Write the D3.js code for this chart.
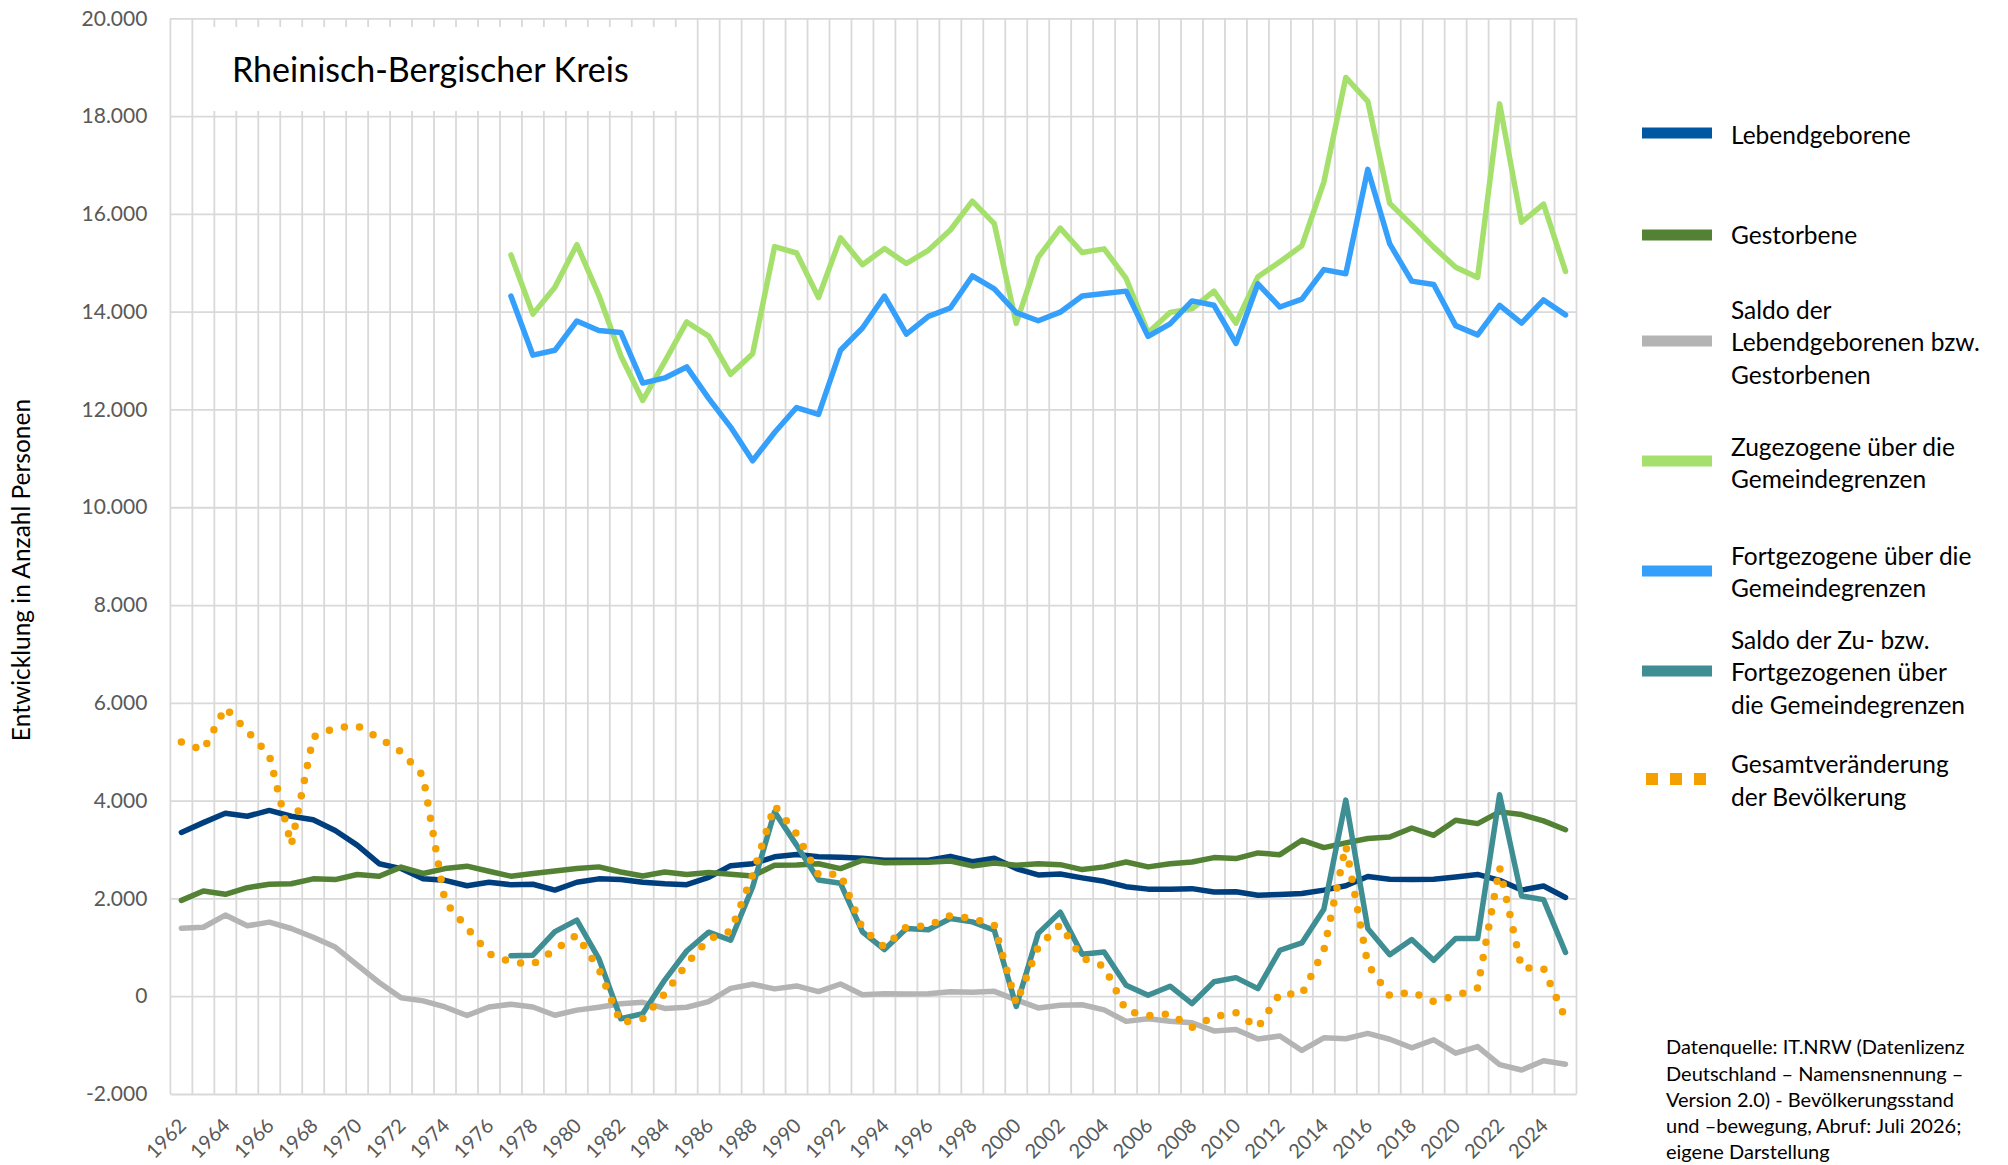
<!DOCTYPE html>
<html><head><meta charset="utf-8">
<script src="https://cdn.jsdelivr.net/npm/d3@7"></script>
<style>
html,body{margin:0;padding:0;background:#fff;}
svg{display:block;font-family:Lato,"Open Sans",sans-serif;}
</style></head><body>
<svg id="chart" width="2008" height="1165"></svg>
<script>
// ---------- DATA ----------
const years = [1962,1963,1964,1965,1966,1967,1968,1969,1970,1971,1972,1973,1974,1975,1976,1977,1978,1979,
  1980,1981,1982,1983,1984,1985,1986,1987,1988,1989,1990,1991,1992,1993,1994,1995,1996,1997,1998,1999,
  2000,2001,2002,2003,2004,2005,2006,2007,2008,2009,2010,2011,2012,2013,2014,2015,2016,2017,2018,2019,
  2020,2021,2022,2023,2024,2025];

const xTickLabels = [1962,1964,1966,1968,1970,1972,1974,1976,1978,1980,1982,1984,1986,1988,1990,1992,
  1994,1996,1998,2000,2002,2004,2006,2008,2010,2012,2014,2016,2018,2020,2022,2024];
const yTicks = [-2000,0,2000,4000,6000,8000,10000,12000,14000,16000,18000,20000];

const lebendgeborene = [3350,3550,3740,3680,3800,3680,3610,3390,3090,2710,2610,2400,2370,2260,2330,2280,2290,2170,
  2330,2400,2385,2330,2300,2280,2430,2670,2710,2850,2900,2850,2840,2820,2780,2780,2780,2860,2750,2820,
  2610,2480,2500,2420,2350,2240,2190,2190,2200,2130,2135,2065,2080,2100,2170,2260,2450,2390,2385,2390,
  2440,2490,2370,2170,2255,2020];

const gestorbene = [1960,2150,2085,2220,2290,2300,2400,2385,2490,2455,2640,2510,2610,2660,2555,2455,2510,2560,
  2610,2645,2540,2460,2540,2490,2530,2495,2460,2680,2685,2710,2610,2780,2730,2735,2740,2765,2665,2725,
  2680,2710,2690,2590,2645,2745,2645,2710,2745,2835,2815,2930,2895,3190,3040,3135,3225,3255,3440,3290,
  3600,3530,3770,3715,3585,3405];

const saldoNatuerlich = [1390,1410,1660,1440,1515,1385,1205,1005,640,280,-30,-95,-220,-395,-220,-165,-220,-390,
  -285,-225,-155,-125,-250,-225,-110,160,245,150,210,95,250,30,50,45,50,90,80,100,
  -75,-240,-185,-175,-280,-515,-460,-510,-545,-710,-680,-875,-815,-1110,-850,-870,-760,-880,-1055,-890,
  -1165,-1030,-1400,-1510,-1320,-1390];

const zugezogene = [null,null,null,null,null,null,null,null,null,null,null,null,null,null,null,15160,13950,14500,
  15370,14340,13100,12185,12980,13790,13500,12720,13140,15330,15200,14290,15510,14960,15290,14985,15255,15670,16260,15800,
  13760,15110,15710,15210,15285,14680,13570,13985,14060,14420,13765,14715,15020,15350,16650,18790,18300,16215,15775,15320,
  14910,14700,18250,15830,16200,14825];

const fortgezogene = [null,null,null,null,null,null,null,null,null,null,null,null,null,null,null,14320,13110,13210,
  13810,13615,13575,12540,12645,12870,12226,11640,10950,11530,12040,11900,13210,13665,14320,13540,13905,14075,14730,14465,
  13980,13815,13990,14320,14370,14420,13495,13750,14220,14130,13350,14570,14095,14255,14860,14775,16910,15385,14625,14555,
  13715,13525,14130,13765,14240,13935];

const saldoWanderung = [null,null,null,null,null,null,null,null,null,null,null,null,null,null,null,830,840,1320,
  1555,770,-460,-355,330,925,1310,1145,2235,3770,3090,2375,2310,1315,955,1385,1360,1590,1520,1350,
  -210,1285,1720,860,905,225,20,205,-150,295,380,155,940,1090,1780,4010,1385,850,1160,735,
  1180,1180,4120,2050,1975,895];

const gesamtveraenderung = [5200,5030,5900,5420,4930,3090,5300,5490,5530,5280,5000,4510,1930,1400,870,700,655,950,
  1250,560,-540,-460,50,660,1170,1330,2480,3900,3320,2480,2500,1380,1005,1420,1440,1650,1590,1450,
  -150,1010,1460,780,610,-295,-400,-360,-640,-420,-340,-640,50,40,935,3080,650,10,90,-110,
  10,170,2630,580,570,-460];

const seriesNames = ["Lebendgeborene","Gestorbene","Saldo der|Lebendgeborenen bzw.|Gestorbenen",
  "Zugezogene über die|Gemeindegrenzen","Fortgezogene über die|Gemeindegrenzen",
  "Saldo der Zu- bzw.|Fortgezogenen über|die Gemeindegrenzen","Gesamtveränderung|der Bevölkerung"];

const titleText = "Rheinisch-Bergischer Kreis";
const yAxisTitle = "Entwicklung in Anzahl Personen";
const sourceLines = ["Datenquelle: IT.NRW (Datenlizenz","Deutschland – Namensnennung –",
  "Version 2.0) - Bevölkerungsstand","und –bewegung, Abruf: Juli 2026;","eigene Darstellung"];

// ---------- STYLE / LAYOUT ----------
const colors = ["#003f7e","#548235","#b4b4b4","#a6e06c","#35a0fb","#3e8e93","#f3a000"];
const legendColors = ["#0058a3","#548235","#b4b4b4","#a6e06c","#35a0fb","#3e8e93","#f3a000"];
const plot = {left:170.4, right:1576.5, top:18.3, bottom:1094};

const svg = d3.select("#chart");
const x = d3.scaleBand().domain(years).range([plot.left, plot.right]).padding(0);
const cx = d => x(d) + x.bandwidth()/2;
const y = d3.scaleLinear().domain([-2000,20000]).range([plot.bottom, plot.top]);

const fmt = d3.formatLocale({decimal:",", thousands:".", grouping:[3], currency:["","€"], minus:"-"}).format(",.0f");

// grid: horizontal
svg.append("g").attr("class","hgrid")
  .attr("transform",`translate(${plot.left},0)`)
  .call(d3.axisLeft(y).tickValues(yTicks).tickSize(-(plot.right-plot.left)).tickFormat(""))
  .call(g => g.select(".domain").remove())
  .call(g => g.selectAll("line").attr("stroke","#d9d9d9").attr("stroke-width",1.8));

// grid: vertical (category boundaries)
const bounds = years.map(d => x(d)).concat([plot.right]);
svg.append("g").attr("class","vgrid").selectAll("line").data(bounds).join("line")
  .attr("x1",d=>d).attr("x2",d=>d).attr("y1",plot.top).attr("y2",plot.bottom)
  .attr("stroke","#d9d9d9").attr("stroke-width",1.8);

// title box (white, covers grid)
svg.append("rect").attr("x",197).attr("y",27).attr("width",490).attr("height",84).attr("fill","#fff");
svg.append("text").attr("x",232).attr("y",82).attr("font-size",34).attr("fill","#000").text(titleText);

// y axis labels
svg.append("g").attr("transform",`translate(${plot.left},0)`)
  .call(d3.axisLeft(y).tickValues(yTicks).tickSize(0).tickPadding(23).tickFormat(fmt))
  .call(g => g.select(".domain").remove())
  .call(g => g.selectAll("text").attr("font-size",21).attr("fill","#595959").attr("font-family","Lato, sans-serif"));

// x axis labels
svg.append("g").attr("transform",`translate(0,${plot.bottom})`)
  .call(d3.axisBottom(x).tickValues(xTickLabels).tickSize(0).tickFormat(d=>String(d)))
  .call(g => g.select(".domain").remove())
  .call(g => g.selectAll("text").attr("font-size",20).attr("fill","#595959").attr("font-family","Lato, sans-serif")
     .attr("text-anchor","end").attr("x",0).attr("y",0).attr("dy","0.35em")
     .attr("transform","translate(1,28) rotate(-45)"));

// y axis title
svg.append("text").attr("transform","translate(30,570) rotate(-90)").attr("text-anchor","middle")
  .attr("font-size",24.5).attr("fill","#000").text(yAxisTitle);

// lines
const allSeries = [lebendgeborene,gestorbene,saldoNatuerlich,zugezogene,fortgezogene,saldoWanderung,gesamtveraenderung];
const line = d3.line().defined(d => d.v !== null).x(d => cx(d.year)).y(d => y(d.v));
allSeries.forEach((arr,i) => {
  const data = years.map((yr,j) => ({year:yr, v:arr[j]}));
  const p = svg.append("path").datum(data).attr("d",line).attr("fill","none")
    .attr("stroke",colors[i]).attr("stroke-linejoin","round").attr("stroke-linecap","round");
  if (i === 6) p.attr("stroke-width",7.5).attr("stroke-dasharray","0 15.5");
  else p.attr("stroke-width",5.5);
});

// legend
const legendY = [
  {sw:133, lines:[135]},
  {sw:235, lines:[235]},
  {sw:341, lines:[310,342.5,375]},
  {sw:461, lines:[447,479.5]},
  {sw:571, lines:[556,588]},
  {sw:671, lines:[640,672,705]},
  {sw:779, lines:[764,797]}
];
const lg = svg.append("g").attr("class","legend");
seriesNames.forEach((name,i) => {
  const it = legendY[i];
  if (i === 6) {
    [1646,1670,1694].forEach(sx => lg.append("rect").attr("x",sx).attr("y",it.sw-6).attr("width",12).attr("height",12).attr("fill",legendColors[i]));
  } else {
    lg.append("line").attr("x1",1642).attr("x2",1712).attr("y1",it.sw).attr("y2",it.sw)
      .attr("stroke",legendColors[i]).attr("stroke-width",11);
  }
  name.split("|").forEach((t,k) => {
    lg.append("text").attr("x",1731).attr("y",it.lines[k]).attr("dy","0.36em")
      .attr("font-size",24.5).attr("fill","#000").text(t);
  });
});

// source
const src = svg.append("g");
sourceLines.forEach((t,k) => {
  src.append("text").attr("x",1666).attr("y",1047 + k*26.3).attr("dy","0.36em")
    .attr("font-size",20).attr("fill","#000").text(t);
});
</script>
</body></html>
